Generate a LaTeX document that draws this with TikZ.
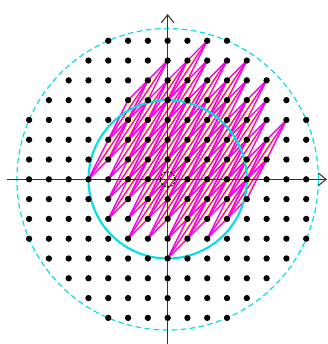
\documentclass[tikz,border=0pt]{standalone}
\usetikzlibrary{arrows.meta}
\definecolor{ringcyan}{RGB}{0,222,232}
\definecolor{sliverpink}{RGB}{245,0,235}
\definecolor{sliverfill}{RGB}{255,255,170}

\begin{document}
\begin{tikzpicture}[
		x=0.5cm, y=0.5cm,
		axis/.style={-{Straight Barb[length=2mm, width=3.2mm]}, line width=0.75pt, color=black!80},
		latdot/.style={fill=black},
		sliver/.style={fill=sliverfill},
		sliverline/.style={draw=sliverpink, line width=1pt, line join=round},
		bigring/.style={draw=ringcyan, dash pattern=on 4pt off 2.5pt, line width=0.85pt},
		smallring/.style={draw=ringcyan, line width=1.5pt},
		origin/.style={draw=black, dash pattern=on 1.5pt off 1pt, line width=0.75pt}
		]
		\useasboundingbox (-8.47,-8.32) rectangle (8.10,9.06);
		
		% SLIVERS (one cell per lattice point of the disc)
		\foreach \x in {-4,...,4}
		\foreach \y in {-4,...,4}{
			\pgfmathtruncatemacro{\r}{\x*\x+\y*\y}
			\ifnum\r<17
			\fill[sliver] (\x,\y) -- ++(1,2) -- ++(1,1) -- ++(-1,-2) -- cycle;
			\fi
		}
		\foreach \x in {-4,...,4}
		\foreach \y in {-4,...,4}{
			\pgfmathtruncatemacro{\r}{\x*\x+\y*\y}
			\ifnum\r<17
			\draw[sliverline] (\x,\y) -- ++(1,2) -- ++(1,1) -- ++(-1,-2) -- cycle;
			\draw[sliverline] (\x,\y) -- ++(2,3);
			\fi
		}
		
		% CIRCLES
		\coordinate (O) at (0,0);
		\draw[smallring] (O) circle (4);
		\draw[bigring] (O) circle ({sqrt(58)});
		
		% AXES
		\coordinate (xl) at (-8.1,0);
		\coordinate (xr) at (8.05,0);
		\coordinate (yb) at (0,-8.6);
		\coordinate (yt) at (0,8.35);
		\draw[axis] (xl) -- (xr);
		\draw[axis] (yb) -- (yt);
		
		% LATTICE POINTS
		\foreach \x in {-7,...,7}
		\foreach \y in {-7,...,7}{
			\pgfmathtruncatemacro{\r}{\x*\x+\y*\y}
			\ifnum\r>0 \ifnum\r<59
			\fill[latdot] (\x,\y) circle (0.16);
			\fi\fi
		}
		\draw[origin] (O) circle (0.38);
		
	\end{tikzpicture}
\end{document}
